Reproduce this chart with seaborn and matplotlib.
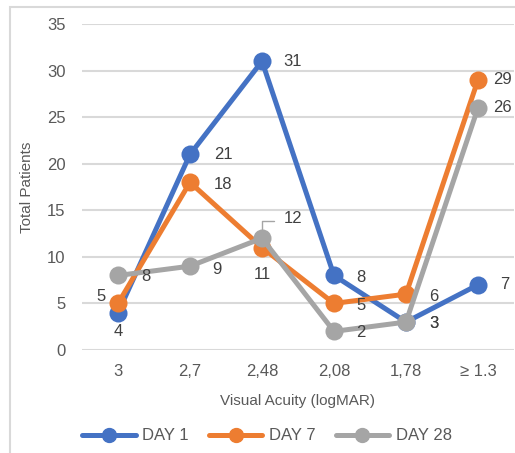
import numpy as np
import pandas as pd
import matplotlib
matplotlib.use('Agg')
import matplotlib.pyplot as plt
import seaborn as sb
from matplotlib.patches import Rectangle

#-------------------------------------------------------------------------------------------------
# data
#-------------------------------------------------------------------------------------------------
categories = ['3', '2,7', '2,48', '2,08', '1,78', '\u2265 1.3']
day1 = [4, 21, 31, 8, 3, 7]
day7 = [5, 18, 11, 5, 6, 29]
day28 = [8, 9, 12, 2, 3, 26]
series_names = ['DAY 1', 'DAY 7', 'DAY 28']

df = pd.DataFrame({'Visual Acuity': categories * 3,
                   'Total Patients': day1 + day7 + day28,
                   'series': np.repeat(series_names, len(categories))})

colors = ['#4472C4', '#ED7D31', '#A5A5A5']
txt = '#595959'

# label offsets in pixels (dx, dy) for each series/point
offsets = {
    'DAY 1': [(0, -19), (33, 0), (31, 0), (27, -2), (28, -1), (27, 0)],
    'DAY 7': [(-17, 7), (33, -2), (0, -27), (27, -2), (28, -2), (24, 0)],
    'DAY 28': [(28, -1), (27, -3), (31, 20), (27, -1), (28, -1), (24, 0)],
}

#-------------------------------------------------------------------------------------------------
# plot
#-------------------------------------------------------------------------------------------------
sb.set_style('white')
plt.rcParams['font.family'] = ['Liberation Sans', 'DejaVu Sans']

fig = plt.figure(figsize=(5.15, 4.53), dpi=100)
fig.patches.append(Rectangle((10/515, -0.05), 1.2, 1 - 7/453 + 0.05, transform=fig.transFigure,
                             fill=False, edgecolor='#D9D9D9', linewidth=1.5))
ax = fig.add_axes([82/515, 1 - 350/453, 432/515, 326/453])

sb.lineplot(data=df, x='Visual Acuity', y='Total Patients', hue='series', palette=colors,
            marker='o', markersize=13, markeredgewidth=0, linewidth=3.6, sort=False,
            legend=False, ax=ax, zorder=3)

for name, vals in zip(series_names, [day1, day7, day28]):
    for i, v in enumerate(vals):
        dx, dy = offsets[name][i]
        ax.annotate(str(v), (i, v), xytext=(dx, dy), textcoords='offset pixels',
                    ha='center', va='center', fontsize=12, color='#404040')

# leader line for the 12 label
x0, y0 = ax.transData.transform((2, 12))
inv = ax.transData.inverted()
p1 = inv.transform((x0, y0 + 9))
p2 = inv.transform((x0, y0 + 19))
p3 = inv.transform((x0 + 13, y0 + 19))
ax.plot([p1[0], p2[0], p3[0]], [p1[1], p2[1], p3[1]], color='#A5A5A5', lw=1, zorder=2)

ax.set_ylim(0, 35)
ax.set_xlim(-0.5, 5.5)
ax.set_yticks(range(0, 36, 5))
ax.grid(axis='y', color='#D9D9D9', linewidth=1.5)
ax.set_axisbelow(True)
for s in ax.spines.values():
    s.set_visible(False)
ax.tick_params(axis='both', length=0, labelsize=12, labelcolor=txt, pad=10)
ax.tick_params(axis='y', pad=12)
ax.set_xlabel('Visual Acuity (logMAR)', fontsize=11, color=txt, labelpad=11)
ax.set_ylabel('Total Patients', fontsize=11, color=txt, labelpad=9)

handles = [plt.Line2D([], [], color=c, lw=3.6, marker='o', markersize=10) for c in colors]
fig.legend(handles, series_names, loc='center', bbox_to_anchor=(267/515, 1 - 436/453), ncol=3,
           frameon=False, fontsize=12, labelcolor=txt, handlelength=3.2, handletextpad=0.4,
           columnspacing=1.2)

fig.savefig('out.png', dpi=100)
